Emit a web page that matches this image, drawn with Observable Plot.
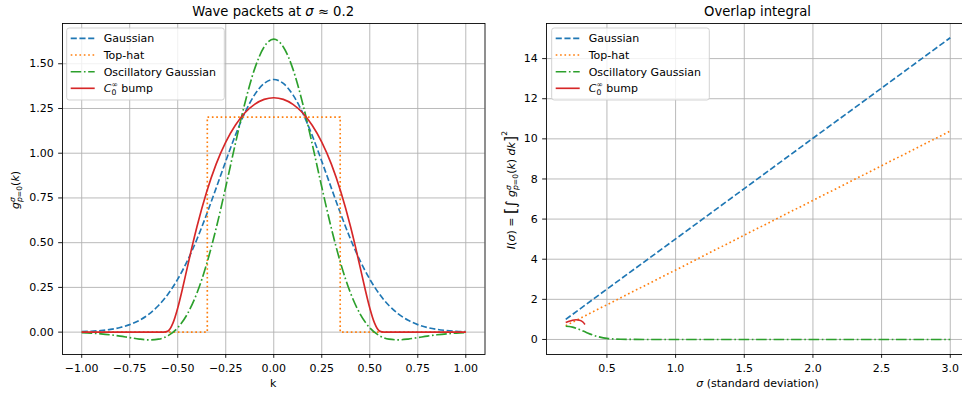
<!DOCTYPE html>
<html>
<head>
<meta charset="utf-8">
<script src="https://cdn.jsdelivr.net/npm/d3@7"></script>
<script src="https://cdn.jsdelivr.net/npm/@observablehq/plot@0.6"></script>
<style>
  html, body { margin: 0; padding: 0; background: #fff; overflow: hidden; }
  #wrap { position: relative; width: 962px; height: 397px; overflow: hidden; background: #fff; }
  #wrap svg { position: absolute; top: 0; }
  text { font-family: "DejaVu Sans", sans-serif; }
</style>
</head>
<body>
<div id="wrap"></div>
<script>
// ---------- Left panel data: wave packets at sigma ~ 0.2 ----------
const kGrid = [-1.00,-0.95,-0.90,-0.85,-0.80,-0.75,-0.70,-0.65,-0.60,-0.55,-0.50,-0.45,-0.40,-0.35,-0.30,-0.25,-0.20,-0.15,-0.10,-0.05,0.00,
               0.05,0.10,0.15,0.20,0.25,0.30,0.35,0.40,0.45,0.50,0.55,0.60,0.65,0.70,0.75,0.80,0.85,0.90,0.95,1.00];
const gaussianG = [0.0027,0.0050,0.0089,0.0154,0.0259,0.042,0.066,0.1007,0.149,0.213,0.296,0.398,0.519,0.657,0.805,0.955,1.100,1.227,1.326,1.390,1.412,
                   1.390,1.326,1.227,1.100,0.955,0.805,0.657,0.519,0.398,0.296,0.213,0.149,0.1007,0.066,0.042,0.0259,0.0154,0.0089,0.0050,0.0027];
const oscillatoryG = [-0.0031,-0.0056,-0.0094,-0.0149,-0.0221,-0.0306,-0.0387,-0.0432,-0.0392,-0.0196,0.0243,0.101,0.218,0.379,0.580,0.811,1.053,1.281,1.470,1.594,1.638,
                      1.594,1.470,1.281,1.053,0.811,0.580,0.379,0.218,0.101,0.0243,-0.0196,-0.0392,-0.0432,-0.0387,-0.0306,-0.0221,-0.0149,-0.0094,-0.0056,-0.0031];
const topHatK = [-1.0,-0.346,-0.346,0.346,0.346,1.0];
const topHatG = [0,0,1.202,1.202,0,0];
const bumpK = [-1.0,-0.9,-0.8,-0.7,-0.6,-0.575,-0.55,-0.525,-0.5,-0.475,-0.45,-0.425,-0.4,-0.35,-0.3,-0.25,-0.2,-0.15,-0.1,-0.05,0.0,
               0.05,0.1,0.15,0.2,0.25,0.3,0.35,0.4,0.425,0.45,0.475,0.5,0.525,0.55,0.575,0.6,0.7,0.8,0.9,1.0];
const bumpG = [0,0,0,0,0,0,0.0068,0.050,0.135,0.244,0.362,0.479,0.589,0.782,0.939,1.062,1.156,1.226,1.273,1.301,1.310,
               1.301,1.273,1.226,1.156,1.062,0.939,0.782,0.589,0.479,0.362,0.244,0.135,0.050,0.0068,0,0,0,0,0,0];
const kTicks = [-1.00,-0.75,-0.50,-0.25,0.00,0.25,0.50,0.75,1.00];
const gTicks = [0.00,0.25,0.50,0.75,1.00,1.25,1.50];

// ---------- Right panel data: overlap integral ----------
const sigmaLin = [0.2,0.5,1.0,1.5,2.0,2.5,3.0];
const gaussianI = [1.00,2.51,5.01,7.52,10.03,12.53,15.04];
const topHatI = [0.69,1.73,3.46,5.20,6.93,8.66,10.39];
const oscSigma = [0.2,0.225,0.25,0.275,0.3,0.35,0.4,0.45,0.5,0.55,0.6,0.7,0.8,1.0,1.5,2.0,2.5,3.0];
const oscillatoryI = [0.657,0.647,0.614,0.563,0.497,0.349,0.213,0.115,0.055,0.024,0.009,0.001,0,0,0,0,0,0];
const bumpSigma = [0.2,0.225,0.25,0.275,0.3,0.325,0.34];
const bumpI = [0.84,0.91,0.96,0.98,0.96,0.87,0.75];
const sigmaTicks = [0.5,1.0,1.5,2.0,2.5,3.0];
const iTicks = [0,2,4,6,8,10,12,14];

const seriesNames = ["Gaussian","Top-hat","Oscillatory Gaussian","C0∞ bump"];
const colors = ["#1f77b4","#ff7f0e","#2ca02c","#d62728"];
const dashes = ["6.1,2.64","1.65,2.72","10.56,2.64,1.65,2.64",null];
const LW = 1.65;

const gridStyle = {stroke: "#b0b0b0", strokeOpacity: 1, strokeWidth: 0.88};
const baseStyle = {fontFamily: "'DejaVu Sans', sans-serif", fontSize: "11px", background: "transparent", color: "black", overflow: "visible"};

function lineMark(xs, ys, i, curve) {
  const opts = {x: xs, y: ys, stroke: colors[i], strokeWidth: LW, curve: curve || "linear", strokeLinecap: "butt", strokeLinejoin: "round"};
  if (dashes[i]) opts.strokeDasharray = dashes[i];
  return Plot.line(ys, opts);
}

const left = Plot.plot({
  width: 490, height: 397,
  marginLeft: 62, marginRight: 5.5, marginTop: 23, marginBottom: 43,
  x: {domain: [-1.1, 1.1]},
  y: {domain: [-0.125, 1.725]},
  style: baseStyle,
  marks: [
    Plot.gridX(kTicks, gridStyle),
    Plot.gridY(gTicks, gridStyle),
    lineMark(kGrid, gaussianG, 0, "monotone-x"),
    lineMark(topHatK, topHatG, 1, "linear"),
    lineMark(kGrid, oscillatoryG, 2, "monotone-x"),
    lineMark(bumpK, bumpG, 3, "monotone-x"),
    Plot.frame({stroke: "black", strokeWidth: 0.88}),
    Plot.axisX({ticks: kTicks, tickFormat: d3.format(".2f"), tickSize: 3.85, tickPadding: 5.5, label: null, fontSize: 11, strokeWidth: 0.88}),
    Plot.axisY({ticks: gTicks, tickFormat: d3.format(".2f"), tickSize: 3.85, tickPadding: 5, label: null, fontSize: 11, strokeWidth: 0.88})
  ]
});
left.style.left = "0px";

const right = Plot.plot({
  width: 490, height: 397,
  marginLeft: 56, marginRight: 11, marginTop: 23, marginBottom: 43,
  x: {domain: [0.06, 3.14]},
  y: {domain: [-0.75, 15.75]},
  style: baseStyle,
  marks: [
    Plot.gridX(sigmaTicks, gridStyle),
    Plot.gridY(iTicks, gridStyle),
    lineMark(sigmaLin, gaussianI, 0, "linear"),
    lineMark(sigmaLin, topHatI, 1, "linear"),
    lineMark(oscSigma, oscillatoryI, 2, "monotone-x"),
    lineMark(bumpSigma, bumpI, 3, "monotone-x"),
    Plot.frame({stroke: "black", strokeWidth: 0.88}),
    Plot.axisX({ticks: sigmaTicks, tickFormat: d3.format(".1f"), tickSize: 3.85, tickPadding: 5.5, label: null, fontSize: 11, strokeWidth: 0.88}),
    Plot.axisY({ticks: iTicks, tickFormat: d3.format("d"), tickSize: 3.85, tickPadding: 5, label: null, fontSize: 11, strokeWidth: 0.88})
  ]
});
right.style.left = "490px";

const wrap = document.getElementById("wrap");
wrap.appendChild(left);
wrap.appendChild(right);

// ---------- Overlay: titles, axis labels, legends ----------
const NS = "http://www.w3.org/2000/svg";
const ov = document.createElementNS(NS, "svg");
ov.setAttribute("width", 962); ov.setAttribute("height", 397);
ov.style.left = "0px"; ov.style.pointerEvents = "none";
ov.innerHTML = `
  <text x="273.2" y="16" text-anchor="middle" font-size="13.2">Wave packets at <tspan font-style="italic">σ</tspan> ≈ 0.2</text>
  <text x="757.5" y="16" text-anchor="middle" font-size="13.2">Overlap integral</text>
  <text x="273.2" y="387" text-anchor="middle" font-size="11">k</text>
  <text x="757.5" y="387" text-anchor="middle" font-size="11"><tspan font-style="italic">σ</tspan> (standard deviation)</text>
  <text transform="translate(19,190) rotate(-90)" text-anchor="middle" font-size="11"><tspan font-style="italic">g</tspan><tspan font-size="7.7" font-style="italic" dy="-4.5">σ</tspan><tspan font-size="7.7" dx="-4.9" dy="7.5"><tspan font-style="italic">p</tspan>=0</tspan><tspan dy="-3">(</tspan><tspan font-style="italic">k</tspan>)</text>
  <text transform="translate(515,190) rotate(-90)" text-anchor="middle" font-size="11"><tspan font-style="italic">I</tspan>(<tspan font-style="italic">σ</tspan>) = <tspan font-size="16" dy="1">[</tspan><tspan font-size="14" font-style="italic">∫</tspan><tspan dy="-1"> </tspan><tspan font-style="italic">g</tspan><tspan font-size="7.7" font-style="italic" dy="-4.5">σ</tspan><tspan font-size="7.7" dx="-4.9" dy="7.5"><tspan font-style="italic">p</tspan>=0</tspan><tspan dy="-3">(</tspan><tspan font-style="italic">k</tspan>) <tspan font-style="italic">dk</tspan><tspan font-size="16" dy="1">]</tspan><tspan font-size="7.7" dy="-9">2</tspan></text>
`;

function legend(x0) {
  const g = document.createElementNS(NS, "g");
  let s = `<rect x="${x0}" y="28" width="157.6" height="72" rx="2.5" fill="white" fill-opacity="0.8" stroke="#cccccc" stroke-width="0.88"/>`;
  const ys = [38.3, 55, 71.7, 88.3];
  for (let i = 0; i < 4; i++) {
    const y = ys[i];
    s += `<line x1="${x0 + 4}" x2="${x0 + 28}" y1="${y}" y2="${y}" stroke="${colors[i]}" stroke-width="${LW}" ${dashes[i] ? `stroke-dasharray="${dashes[i]}"` : ""}/>`;
    if (i < 3) {
      s += `<text x="${x0 + 37}" y="${y + 4}" font-size="11">${seriesNames[i]}</text>`;
    } else {
      s += `<text x="${x0 + 37}" y="${y + 4}" font-size="11"><tspan font-style="italic">C</tspan><tspan font-size="7.7" dy="2.5">0</tspan><tspan font-size="7.7" dx="-4.9" dy="-7.5">∞</tspan><tspan dy="5"> bump</tspan></text>`;
    }
  }
  g.innerHTML = s;
  return g;
}
ov.appendChild(legend(66.7));
ov.appendChild(legend(551.7));
wrap.appendChild(ov);
</script>
</body>
</html>
